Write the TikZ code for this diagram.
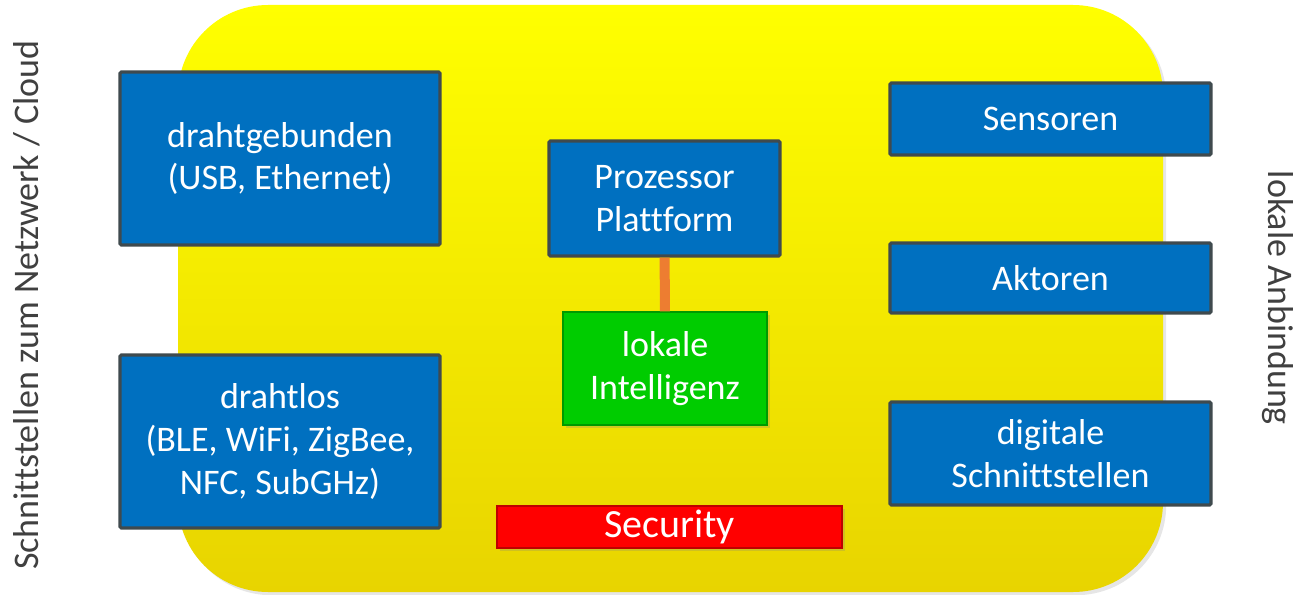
\documentclass[tikz,border=0pt]{standalone}
\usepackage{fontspec}
\setmainfont{Carlito}[Ligatures=NoCommon]
\usetikzlibrary{shadows}
\definecolor{boxblue}{HTML}{0070C0}
\definecolor{boxrim}{HTML}{3F4A4E}
\definecolor{sidegray}{HTML}{404040}
\definecolor{lokgreen}{HTML}{00CC00}
\definecolor{secred}{HTML}{FF0000}
\definecolor{linkorange}{HTML}{ED7D31}
\definecolor{yelbottom}{HTML}{E8D400}
\begin{document}
\begin{tikzpicture}[x=0.75pt, y=-0.75pt,
		b/.style = {draw=boxrim, line width=2.4pt, rounded corners=1pt, fill=boxblue, text=white, align=center,
			font=\fontsize{27}{32}\selectfont, inner sep=0pt},
		g/.style = {draw=lokgreen!75!black, line width=0.8pt, fill=lokgreen, text=white, align=center,
			font=\fontsize{27}{32}\selectfont, inner sep=0pt, drop shadow={opacity=0.25}},
		side/.style = {text=sidegray, font=\fontsize{27}{32}\selectfont}]
				\useasboundingbox (0,0) rectangle (1301,595);
				% background board
				\shade[top color=yellow, bottom color=yelbottom, rounded corners=67.5pt,
					drop shadow={opacity=0.2}] (178,5) rectangle (1163,592);

				\node[b, minimum width=240pt, minimum height=129.75pt] (wired) at (280,158.5) {drahtgebunden\\(USB, Ethernet)};
				\node[b, minimum width=240pt, minimum height=129.75pt] (wireless) at (280,441.5) {drahtlos\\(BLE, WiFi, ZigBee,\\NFC, SubGHz)};
				\node[b, minimum width=173.25pt, minimum height=86.25pt] (cpu) at (664.5,198.5) {Prozessor\\Plattform};
				\node[g, minimum width=153pt, minimum height=84.75pt] (ki) at (665,368.5) {lokale\\Intelligenz};
				\node[g, fill=secred, draw=secred!75!black, font=\fontsize{30}{34}\selectfont,
					minimum width=258.75pt, minimum height=31.5pt] (sec) at (669.5,527) {Security};
				\node[b, minimum width=240.75pt, minimum height=54pt] (sens) at (1050.5,119) {Sensoren};
				\node[b, minimum width=240.75pt, minimum height=52.5pt] (akt) at (1050.5,278) {Aktoren};
				\node[b, minimum width=240.75pt, minimum height=77.25pt] (dig) at (1050.5,453.5) {digitale\\Schnittstellen};

				\draw[linkorange, line width=7.5pt] (cpu) -- (ki);

				\node[side, rotate=90] (net) at (27,305) {Schnittstellen zum Netzwerk / Cloud};
				\node[side, rotate=-90] (lok) at (1278,298) {lokale Anbindung};
			\end{tikzpicture}
\end{document}
